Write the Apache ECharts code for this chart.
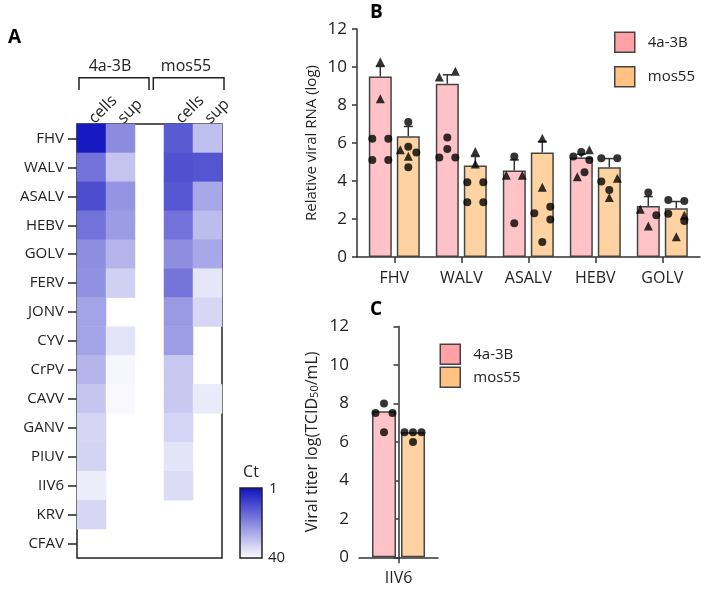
<!DOCTYPE html>
<html><head><meta charset="utf-8">
<script src="https://cdn.jsdelivr.net/npm/echarts@6/dist/echarts.min.js"></script>
<style>html,body{margin:0;padding:0;background:#fff}#c{width:704px;height:589px}</style>
</head><body><div id="c"></div>
<script>
// ---------- Panel A: heatmap (Ct values; null = not detected) ----------
const heatRows = ['FHV','WALV','ASALV','HEBV','GOLV','FERV','JONV','CYV','CrPV','CAVV','GANV','PIUV','IIV6','KRV','CFAV'];
const heatCols = ['cells','sup','','cells','sup'];
const ctCells4a  = [2.5,17,11,17,21.5,22,25,25,28,30.5,33.3,32.8,37,33.5,null];
const ctSup4a    = [21,30.4,22.5,23.8,27.8,32.3,null,35.6,38.5,39,null,null,null,null,null];
const ctCellsMos = [13,11.4,12.6,17,21.6,17.3,23.5,24,31,31,33,35.6,34.3,null,null];
const ctSupMos   = [29.7,12.3,25.8,29,25.8,36,33.5,null,null,36.5,null,null,null,null,null];
const ctRange = [1, 40];
const groupLabels = ['4a-3B','mos55'];

// ---------- Panel B: relative viral RNA ----------
const rnaCats = ['FHV','WALV','ASALV','HEBV','GOLV'];
const rnaBar4a  = [9.5,9.12,4.55,5.24,2.69];
const rnaBarMos = [6.36,4.81,5.5,4.73,2.57];
const rnaErrTop4a  = [10.03,9.59,5.11,5.41,3.18];
const rnaErrTopMos = [6.87,5.29,6.08,5.18,2.92];
// [categoryIndex, jitter slot (-1 left, 0 centre, 1 right), value]
const rnaCircles4a = [[0,-1,6.22],[0,1,6.22],[0,-1,5.11],[0,1,5.11],[1,0,6.29],[1,0,5.69],[1,-1,5.24],[1,1,5.24],[2,0,5.29],[2,0,1.78],[3,-1,5.29],[3,0,5.52],[3,1,5.11],[3,0.4,4.46],[4,0,3.39],[4,1,2.2]];
const rnaTriangles4a = [[0,0,10.28],[0,0,8.33],[1,-1,9.47],[1,1,9.77],[2,-1,4.3],[2,1,4.3],[3,1,5.64],[3,-0.5,4.23],[4,-1,2.51],[4,0,1.63]];
const rnaCirclesMos = [[0,0,7.1],[0,0,5.8],[0,1,5.5],[0,0,4.73],[1,-1,3.94],[1,1,3.94],[1,-1,2.88],[1,1,2.88],[2,-1,2.3],[2,1,2.64],[2,1,1.97],[2,0,0.79],[3,-1,5.2],[3,1,5.2],[3,-1,3.97],[3,0,3.53],[4,-1,3.0],[4,1,2.95],[4,-1,2.27],[4,1,1.9]];
const rnaTrianglesMos = [[0,-1,5.65],[0,0,5.3],[1,0,5.55],[1,0,4.9],[2,0,6.25],[2,0,3.67],[3,1,4.15],[3,0,3.13],[4,1,2.2],[4,0,1.07]];

// ---------- Panel C: viral titer ----------
const titerCats = ['IIV6'];
const titerBar4a  = [7.6];
const titerBarMos = [6.5];
const titerPts4a  = [[0,0,8.0],[0,-1,7.5],[0,1,7.5],[0,0,6.5]];
const titerPtsMos = [[0,-1,6.5],[0,0,6.5],[0,1,6.5],[0,0,6.0]];

const yAxisMin = 0, yAxisMax = 12, yAxisStep = 2;
const seriesNames = ['4a-3B','mos55'];

// ---------- styles ----------
const FONT = 'Open Sans';
const INK = '#222';
const AXC = '#333';
const HEAT_COLORS = ['#1010c0', '#ffffff'];
const BAR_FILL = ['#ffc3c7', '#fed3a1'];
const LEG_FILL = ['#ffa1a5', '#ffc282'];
const BAR_EDGE = '#444';
const B_BAND = 67, B_BW = 23, B_GAP = 5, B_JIT = 8;
const C_BAND = 79, C_BW = 24, C_GAP = 5, C_JIT = 8.5;

const heatData = [];
[ctCells4a, ctSup4a, null, ctCellsMos, ctSupMos].forEach((col, ci) => {
  if (!col) return;
  col.forEach((v, ri) => { if (v != null) heatData.push([ci, ri, v]); });
});

function pts(list, side, band, bw, gap, jit) {
  const off = side * (bw + gap) / 2 / band;
  return list.map(p => [p[0] + off + p[1] * jit / band, p[2]]);
}
function errSeries(side, bars, tops) {
  const dx = side * (B_BW + B_GAP) / 2;
  return {
    type: 'custom', xAxisIndex: 2, yAxisIndex: 2, z: 3,
    data: bars.map((b, i) => [i, b, tops[i]]),
    renderItem: function (params, api) {
      const i = api.value(0);
      const p0 = api.coord([i, api.value(1)]);
      const p1 = api.coord([i, api.value(2)]);
      const x = p0[0] + dx;
      const st = { stroke: AXC, lineWidth: 1.5 };
      return { type: 'group', children: [
        { type: 'line', shape: { x1: x, y1: p0[1], x2: x, y2: p1[1] }, style: st },
        { type: 'line', shape: { x1: x - 4.5, y1: p1[1], x2: x + 4.5, y2: p1[1] }, style: st }
      ]};
    }
  };
}
const axisLine = { show: true, lineStyle: { color: AXC, width: 1.5 } };
const tickStyle = { color: AXC, width: 1.5 };
const lab = { color: INK, fontSize: 15, fontFamily: FONT };
const lab16 = { color: INK, fontSize: 16, fontFamily: FONT };
const lab17 = { color: INK, fontSize: 17, fontFamily: FONT };
function valueY(grid, show, name, nameGap) {
  return {
    type: 'value', gridIndex: grid, min: yAxisMin, max: yAxisMax, interval: yAxisStep, show: show,
    axisLine: axisLine, axisTick: { show: true, length: 5, lineStyle: tickStyle },
    axisLabel: Object.assign({ margin: 10 }, lab17), splitLine: { show: false },
    name: name, nameLocation: 'middle', nameGap: nameGap, nameRotate: 90,
    nameTextStyle: { color: INK, fontSize: 15, fontFamily: FONT,
      rich: { a: { fontSize: 16, fontFamily: FONT, color: INK }, s: { fontSize: 11, fontFamily: FONT, color: INK, padding: [0, 0, -6, 0] } } }
  };
}
function barSeries(idx, xi, yi, data, bw, gapPct) {
  return { name: seriesNames[idx], type: 'bar', xAxisIndex: xi, yAxisIndex: yi, data: data,
    barWidth: bw, barGap: gapPct, z: 2,
    itemStyle: { color: BAR_FILL[idx], borderColor: BAR_EDGE, borderWidth: 1.5 } };
}
function scat(xi, yi, data, sym) {
  return { type: 'scatter', xAxisIndex: xi, yAxisIndex: yi, data: data, symbol: sym,
    symbolSize: sym === 'circle' ? 8 : 9, z: 5, itemStyle: { color: '#000' } };
}
function legendCfg(left, top, gap) {
  return { left: left, top: top, orient: 'vertical', padding: 0, itemGap: gap, icon: 'rect',
    itemWidth: 20, itemHeight: 20, selectedMode: false,
    textStyle: Object.assign({ padding: [0, 0, 0, 8] }, lab),
    data: seriesNames.map((n, i) => ({ name: n, itemStyle: { color: LEG_FILL[i], borderColor: BAR_EDGE, borderWidth: 1.5 } })) };
}

const chart = echarts.init(document.getElementById('c'), null, { renderer: 'canvas' });
const option = {
  animation: false,
  textStyle: { fontFamily: FONT },
  grid: [
    { left: 77, top: 124, width: 145, height: 434, show: true, borderColor: '#222', borderWidth: 1.5, backgroundColor: 'transparent' },
    { left: 357, top: 29, width: 343, height: 228 },
    { left: 360.8, top: 29, width: 335, height: 228 },
    { left: 359, top: 326.5, width: 79, height: 230.8 }
  ],
  visualMap: { type: 'continuous', show: false, min: ctRange[0], max: ctRange[1], seriesIndex: 0, inRange: { color: HEAT_COLORS } },
  xAxis: [
    { type: 'category', gridIndex: 0, position: 'top', data: heatCols, axisLine: { show: false }, axisTick: { show: false },
      axisLabel: Object.assign({ rotate: -45, margin: 3, interval: 0 }, lab16), splitLine: { show: false } },
    { type: 'value', gridIndex: 1, min: 0, max: 1, axisLine: axisLine, axisTick: { show: false }, axisLabel: { show: false }, splitLine: { show: false } },
    { type: 'category', gridIndex: 2, data: rnaCats, axisLine: { show: false },
      axisTick: { show: true, alignWithLabel: true, length: 6, lineStyle: tickStyle }, axisLabel: Object.assign({ margin: 13 }, lab16) },
    { type: 'value', gridIndex: 2, min: -0.5, max: rnaCats.length - 0.5, show: false },
    { type: 'category', gridIndex: 3, data: titerCats, axisLine: axisLine,
      axisTick: { show: true, alignWithLabel: true, length: 6, lineStyle: tickStyle }, axisLabel: Object.assign({ margin: 13 }, lab16) },
    { type: 'value', gridIndex: 3, min: -0.5, max: titerCats.length - 0.5, show: false }
  ],
  yAxis: [
    { type: 'category', gridIndex: 0, data: heatRows, inverse: true, axisLine: { show: false },
      axisTick: { show: true, alignWithLabel: true, length: 9, lineStyle: { color: '#222', width: 1.5 } },
      axisLabel: Object.assign({ margin: 13, interval: 0 }, lab) },
    valueY(1, true, 'Relative viral RNA (log)', 38),
    valueY(2, false, '', 0),
    valueY(3, true, '{a|Viral titer log(TCID}{s|50}{a|/mL)}', 39)
  ],
  legend: [legendCfg(614, 31.5, 13), legendCfg(439.5, 343.5, 1.5)],
  series: [
    { type: 'heatmap', xAxisIndex: 0, yAxisIndex: 0, data: heatData, emphasis: { disabled: true } },
    barSeries(0, 2, 2, rnaBar4a, B_BW, (B_GAP / B_BW * 100) + '%'),
    barSeries(1, 2, 2, rnaBarMos, B_BW, (B_GAP / B_BW * 100) + '%'),
    errSeries(-1, rnaBar4a, rnaErrTop4a),
    errSeries(1, rnaBarMos, rnaErrTopMos),
    scat(3, 2, pts(rnaCircles4a, -1, B_BAND, B_BW, B_GAP, B_JIT), 'circle'),
    scat(3, 2, pts(rnaTriangles4a, -1, B_BAND, B_BW, B_GAP, B_JIT), 'triangle'),
    scat(3, 2, pts(rnaCirclesMos, 1, B_BAND, B_BW, B_GAP, B_JIT), 'circle'),
    scat(3, 2, pts(rnaTrianglesMos, 1, B_BAND, B_BW, B_GAP, B_JIT), 'triangle'),
    barSeries(0, 4, 3, titerBar4a, C_BW, (C_GAP / C_BW * 100) + '%'),
    barSeries(1, 4, 3, titerBarMos, C_BW, (C_GAP / C_BW * 100) + '%'),
    scat(5, 3, pts(titerPts4a, -1, C_BAND, C_BW, C_GAP, C_JIT), 'circle'),
    scat(5, 3, pts(titerPtsMos, 1, C_BAND, C_BW, C_GAP, C_JIT), 'circle')
  ],
  graphic: [
    { type: 'text', left: 8, top: 28, style: { text: 'A', font: 'bold 19px "' + FONT + '"', fill: '#000' } },
    { type: 'text', left: 370, top: 3, style: { text: 'B', font: 'bold 19px "' + FONT + '"', fill: '#000' } },
    { type: 'text', left: 370, top: 300, style: { text: 'C', font: 'bold 19px "' + FONT + '"', fill: '#000' } },
    { type: 'polyline', shape: { points: [[79, 90], [79, 77.7], [149, 77.7], [149, 90]] }, style: { stroke: '#222', lineWidth: 1.5, fill: null } },
    { type: 'polyline', shape: { points: [[153.3, 90], [153.3, 77.7], [224, 77.7], [224, 90]] }, style: { stroke: '#222', lineWidth: 1.5, fill: null } },
    { type: 'text', x: 110, y: 66, style: { text: groupLabels[0], fontSize: 16, fontFamily: FONT, fill: INK, align: 'center', verticalAlign: 'middle' } },
    { type: 'text', x: 186, y: 66, style: { text: groupLabels[1], fontSize: 16, fontFamily: FONT, fill: INK, align: 'center', verticalAlign: 'middle' } },
    { type: 'rect', shape: { x: 240, y: 488, width: 22, height: 70 },
      style: { fill: new echarts.graphic.LinearGradient(0, 0, 0, 1, [{ offset: 0, color: HEAT_COLORS[0] }, { offset: 1, color: HEAT_COLORS[1] }]), stroke: '#222', lineWidth: 1.5 } },
    { type: 'text', x: 251, y: 472, style: { text: 'Ct', fontSize: 16, fontFamily: FONT, fill: INK, align: 'center', verticalAlign: 'middle' } },
    { type: 'text', x: 269, y: 489, style: { text: String(ctRange[0]), fontSize: 15, fontFamily: FONT, fill: INK, align: 'left', verticalAlign: 'middle' } },
    { type: 'text', x: 268, y: 558, style: { text: String(ctRange[1]), fontSize: 15, fontFamily: FONT, fill: INK, align: 'left', verticalAlign: 'middle' } }
  ]
};
chart.setOption(option);
</script>
</body></html>
